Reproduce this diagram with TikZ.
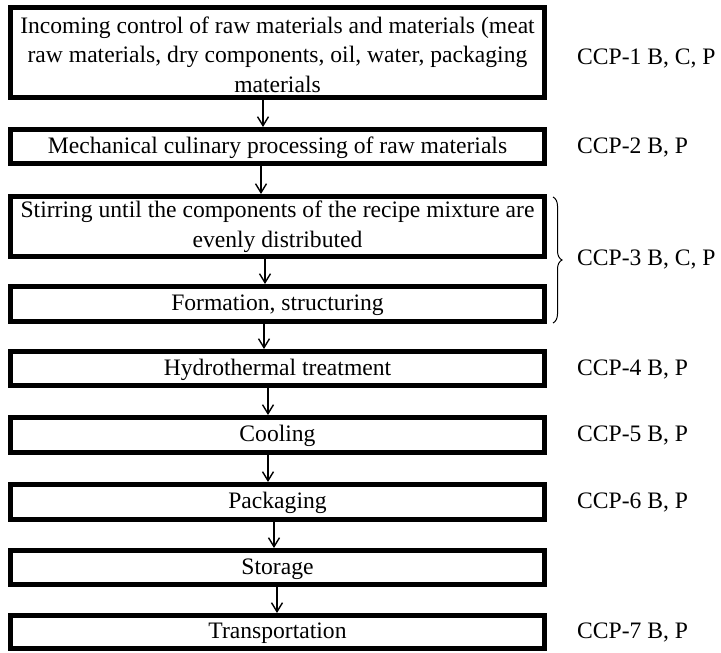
\documentclass[tikz,border=0pt]{standalone}
\usepackage{fontspec}
\setmainfont{Liberation Serif}
\usetikzlibrary{arrows.meta,decorations.pathreplacing}
\tikzset{
  stepbox/.style={draw=black, line width=5pt, fill=white, minimum width=534pt, inner sep=0pt,
    align=center, font=\fontsize{23.6}{29.5}\selectfont},
  onebox/.style={stepbox, text height=16.5pt, text depth=3.5pt},
  flowarr/.style={line width=1.4pt, -{Straight Barb[length=9pt,width=11pt,line width=1.4pt]}},
  ccp/.style={anchor=base west, inner sep=0pt, font=\fontsize{23.6}{29.5}\selectfont},
}
\begin{document}
\begin{tikzpicture}[x=1pt,y=1pt]
\useasboundingbox (0,0) rectangle (721,-653);
% boxes
\node[stepbox, minimum height=90pt] (b1) at (277.5,-52.5) {\rule{0pt}{20.6pt}Incoming control of raw materials and materials (meat\\raw materials, dry components, oil, water, packaging\\materials};
\node[onebox, minimum height=34pt] (b2) at (277.5,-146.5) {Mechanical culinary processing of raw materials};
\node[stepbox, minimum height=60pt] (b3) at (277.5,-226.5) {Stirring until the components of the recipe mixture are\\evenly distributed};
\node[onebox, minimum height=35pt] (b4) at (277.5,-304) {Formation, structuring};
\node[onebox, minimum height=34pt] (b5) at (277.5,-368.5) {Hydrothermal treatment};
\node[onebox, minimum height=35pt] (b6) at (277.5,-435) {Cooling};
\node[onebox, minimum height=35pt] (b7) at (277.5,-502) {Packaging};
\node[onebox, minimum height=34pt] (b8) at (277.5,-567.5) {Storage};
\node[onebox, minimum height=33pt] (b9) at (277.5,-632) {Transportation};
% arrows
\draw[flowarr] (b1.south -| 263,0) -- (b2.north -| 263,0);
\draw[flowarr] (b2.south -| 261,0) -- (b3.north -| 261,0);
\draw[flowarr] (b3.south -| 265,0) -- (b4.north -| 265,0);
\draw[flowarr] (b4.south -| 264,0) -- (b5.north -| 264,0);
\draw[flowarr] (b5.south -| 268,0) -- (b6.north -| 268,0);
\draw[flowarr] (b6.south -| 268,0) -- (b7.north -| 268,0);
\draw[flowarr] (b7.south -| 274,0) -- (b8.north -| 274,0);
\draw[flowarr] (b8.south -| 277,0) -- (b9.north -| 277,0);
% brace
\coordinate (brtop) at (553,-197);
\coordinate (brbot) at (553,-323);
\draw[line width=1pt, decorate, decoration={brace, amplitude=9pt}] (brtop) -- (brbot);
% CCP labels
\node[ccp] (c1) at (577,-64.5) {CCP-1 B, C, P};
\node[ccp] (c2) at (577,-153) {CCP-2 B, P};
\node[ccp] (c3) at (577,-265) {CCP-3 B, C, P};
\node[ccp] (c4) at (577,-375) {CCP-4 B, P};
\node[ccp] (c5) at (577,-441.5) {CCP-5 B, P};
\node[ccp] (c6) at (577,-508.5) {CCP-6 B, P};
\node[ccp] (c7) at (577,-638.5) {CCP-7 B, P};
\end{tikzpicture}
\end{document}
